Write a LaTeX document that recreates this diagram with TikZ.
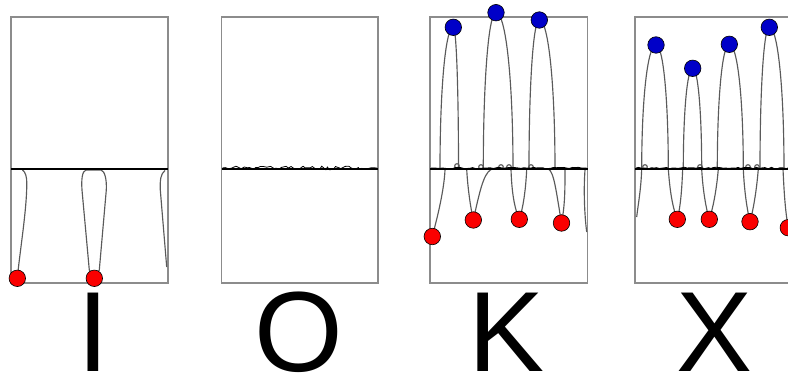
\documentclass[tikz,border=0pt]{standalone}
\usepackage{fontspec}
\newfontfamily\glyphfont{Liberation Sans}
\usetikzlibrary{decorations.pathmorphing,backgrounds}
\definecolor{framegray}{RGB}{140,140,140}
\definecolor{wiregray}{RGB}{90,90,90}
\definecolor{ballred}{RGB}{250,0,0}
\definecolor{ballblue}{RGB}{0,0,200}
\newcommand\myarch[5]{% xL, xR, xt, yt, node
  \draw[wire] (#1,169) .. controls (#1,{169-0.55*(169-#4)}) and ({#3-0.6*(#3-#1)},#4) .. (#5.center)
    .. controls ({#3+0.6*(#2-#3)},#4) and (#2,{169-0.55*(169-#4)}) .. (#2,169);}
\tikzset{
  panel/.style={draw=framegray, line width=1.3pt},
  horizon/.style={draw=black, line width=2pt},
  wire/.style={draw=wiregray, line width=1.15pt},
  noise/.style={draw=black, line width=0.8pt, decorate, decoration={random steps, segment length=3pt, amplitude=#1}},
  ball/.style={circle, draw=black, line width=0.6pt, minimum size=16.5pt, inner sep=0pt},
  redball/.style={ball, fill=ballred},
  blueball/.style={ball, fill=ballblue},
  glyph/.style={font={\glyphfont\fontsize{114}{114}\selectfont}, inner sep=0pt, anchor=base}
}
\begin{document}
\begin{tikzpicture}[x=1pt,y=-1pt]
\useasboundingbox (0,0) rectangle (788,374);
\pgfmathsetseed{7}
% balls
\node[redball] (r11) at (17.3,278.3) {};
\node[redball] (r12) at (94.3,278.3) {};
\node[blueball] (b31) at (453.3,27.3) {};
\node[blueball] (b32) at (496,12.7) {};
\node[blueball] (b33) at (539.3,20) {};
\node[redball] (r31) at (432.3,236.5) {};
\node[redball] (r32) at (473.3,220) {};
\node[redball] (r33) at (519.3,219.3) {};
\node[redball] (r34) at (561.5,223) {};
\node[blueball] (b41) at (656,45) {};
\node[blueball] (b42) at (692.7,68.3) {};
\node[blueball] (b43) at (729.3,44.3) {};
\node[blueball] (b44) at (769.3,27.3) {};
\node[redball] (r41) at (677.3,219.3) {};
\node[redball] (r42) at (709.3,219.3) {};
\node[redball] (r43) at (750,221.7) {};
\node[redball] (r44) at (788.3,227.7) {};
% letters
\node[glyph] (lI) at (93.3,371) {I};
\node[glyph] (lO) at (299,371) {O};
\node[glyph] (lK) at (506.4,371) {K};
\node[glyph] (lX) at (715,371) {X};
\begin{pgfonlayer}{background}
% frames
\draw[panel] (11,17) rectangle (168,283);
\draw[panel] (221.7,17) rectangle (378,283);
\draw[panel] (430,17) rectangle (587.7,283);
\draw[panel] (635,17) rectangle (792,283);
% panel 1 wires
\draw[wire] (22.5,170) .. controls (25.5,172) and (26.8,177) .. (26.8,183) .. controls (26.8,210) and (20,250) .. (r11.center);
\draw[wire] (r12.center) -- (89.3,270) -- (82,190) .. controls (81.3,180) and (82,171) .. (86,170) -- (101,170) .. controls (105,171) and (106.8,180) .. (106.3,190) -- (99.3,270) -- (r12.center);
\draw[wire] (165,170.5) .. controls (160.5,174) and (160,180) .. (160.3,190) -- (166.7,267);
% panel 3 wires
\myarch{440}{458.5}{453.3}{27.3}{b31}
\myarch{483.3}{513}{496}{12.7}{b32}
\myarch{529}{555}{539.3}{20}{b33}
\foreach \px/\py in {457/166,481/167,501/167,509/167,531/167}
  \draw[wire] (\px,\py) circle[radius=2.3pt];
\draw[wire] (445,170) .. controls (444,190) and (438,215) .. (r31.center);
\draw[wire] (466.7,169) .. controls (467.5,185) and (470,205) .. (r32.center);
\draw[wire] (491,169.5) .. controls (483,174) and (479,195) .. (r32.center);
\draw[wire] (511,169) .. controls (511.5,185) and (513,205) .. (r33.center);
\draw[wire] (526.7,169) .. controls (526,185) and (524,205) .. (r33.center);
\draw[wire] (548.3,169) .. controls (554,172) and (556,190) .. (r34.center);
\draw[wire] (565,169) .. controls (565,190) and (565,205) .. (r34.center);
\draw[wire] (585,170) .. controls (583.5,190) and (584.5,215) .. (586.7,232);
% panel 4 wires
\myarch{641.7}{668.3}{656}{45}{b41}
\myarch{683.3}{701.7}{692.7}{68.3}{b42}
\myarch{717.3}{743.3}{729.3}{44.3}{b43}
\myarch{760}{784}{769.3}{27.3}{b44}
\foreach \px/\py in {645/167,700/167,748/167,757/167}
  \draw[wire] (\px,\py) circle[radius=2.3pt];
\draw[wire] (641.7,169) .. controls (641,190) and (638,205) .. (636.7,217);
\draw[wire] (668.3,169) .. controls (669.5,185) and (671.5,205) .. (r41.center);
\draw[wire] (682.7,169) .. controls (682,185) and (681,205) .. (r41.center);
\draw[wire] (701.7,169) .. controls (702.5,185) and (705,205) .. (r42.center);
\draw[wire] (718.3,169) .. controls (717,185) and (714,205) .. (r42.center);
\draw[wire] (743.3,169) .. controls (744,185) and (746,205) .. (r43.center);
\draw[wire] (758.3,169) .. controls (757,185) and (754.5,205) .. (r43.center);
\draw[wire] (783,169) .. controls (784,190) and (785,210) .. (r44.center);
% horizons
\draw[horizon] (11,169) -- (168,169);
\draw[horizon] (221.7,169) -- (378,169);
\draw[horizon] (430,169) -- (587.7,169);
\draw[horizon] (635,169) -- (792,169);
\draw[noise=1.8pt] (222.5,168) -- (377,168);
\draw[noise=0.7pt] (431,168) -- (586.7,168);
\draw[noise=0.7pt] (636,168) -- (788,168);
\end{pgfonlayer}
\end{tikzpicture}
\end{document}
